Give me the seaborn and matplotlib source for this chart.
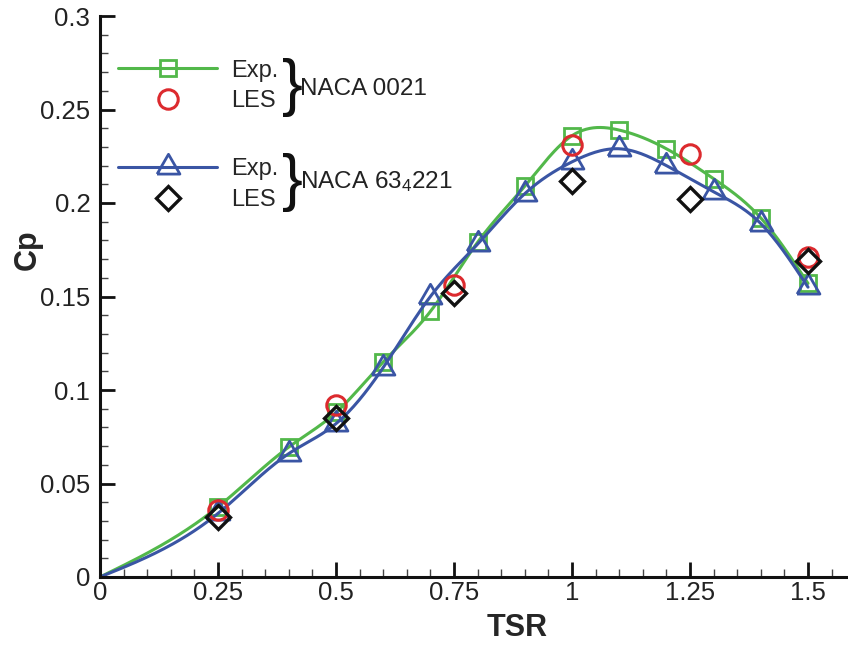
import numpy as np
import matplotlib
matplotlib.use("Agg")
import matplotlib.pyplot as plt
from matplotlib.lines import Line2D
from matplotlib.ticker import MultipleLocator
import seaborn as sns

# Experimental power coefficient curves
tsr_exp = [0.0, 0.25, 0.4, 0.5, 0.6, 0.7, 0.8, 0.9, 1.0, 1.1, 1.2, 1.3, 1.4, 1.5]
cp_exp_0021 = [0.0, 0.0375, 0.0695, 0.088, 0.115, 0.142, 0.179, 0.209, 0.236,
               0.239, 0.229, 0.213, 0.192, 0.157]
cp_exp_634221 = [0.0, 0.034, 0.066, 0.082, 0.112, 0.150, 0.178, 0.205, 0.222,
                 0.229, 0.220, 0.206, 0.189, 0.155]

# LES results
tsr_les = [0.25, 0.5, 0.75, 1.0, 1.25, 1.5]
cp_les_0021 = [0.036, 0.092, 0.156, 0.231, 0.226, 0.171]
cp_les_634221 = [0.032, 0.085, 0.152, 0.212, 0.202, 0.169]

x_ticks = [0, 0.25, 0.5, 0.75, 1.0, 1.25, 1.5]
x_tick_labels = ["0", "0.25", "0.5", "0.75", "1", "1.25", "1.5"]
y_ticks = [0, 0.05, 0.1, 0.15, 0.2, 0.25, 0.3]
y_tick_labels = ["0", "0.05", "0.1", "0.15", "0.2", "0.25", "0.3"]

GREEN = "#52b84a"
BLUE = "#3a55a4"
RED = "#dc2a2e"
BLACK = "#111111"

sns.set_style("ticks")
plt.rcParams["font.family"] = ["Liberation Sans", "DejaVu Sans"]
plt.rcParams["mathtext.fontset"] = "custom"
plt.rcParams["mathtext.rm"] = "Liberation Sans"
plt.rcParams["mathtext.it"] = "Liberation Sans:italic"


def natural_spline(x, y, n=400):
    """Smooth curve through the given points (natural cubic spline)."""
    x = np.asarray(x, float)
    y = np.asarray(y, float)
    m = len(x)
    h = np.diff(x)
    A = np.zeros((m, m))
    r = np.zeros(m)
    A[0, 0] = A[-1, -1] = 1.0
    for i in range(1, m - 1):
        A[i, i - 1] = h[i - 1]
        A[i, i] = 2 * (h[i - 1] + h[i])
        A[i, i + 1] = h[i]
        r[i] = 3 * ((y[i + 1] - y[i]) / h[i] - (y[i] - y[i - 1]) / h[i - 1])
    c = np.linalg.solve(A, r)
    b = np.diff(y) / h - h * (2 * c[:-1] + c[1:]) / 3
    d = np.diff(c) / (3 * h)
    xs = np.linspace(x[0], x[-1], n)
    idx = np.clip(np.searchsorted(x, xs) - 1, 0, m - 2)
    dx = xs - x[idx]
    ys = y[idx] + b[idx] * dx + c[idx] * dx ** 2 + d[idx] * dx ** 3
    return xs, ys


# equilateral triangle centred on its centroid
tri = [(-1.0, -0.577), (1.0, -0.577), (0.0, 1.155), (-1.0, -0.577)]

fig = plt.figure(figsize=(8.48, 6.45), dpi=100)
ax = fig.add_axes([100 / 848, 68 / 645, 748 / 848, 561 / 645])

LW = 2.2
sq_kw = dict(marker="s", markersize=11.5, markerfacecolor="none",
             markeredgecolor=GREEN, markeredgewidth=2.0)
tri_kw = dict(marker=tri, markersize=19, markerfacecolor="none",
              markeredgecolor=BLUE, markeredgewidth=2.0)
circ_kw = dict(marker="o", markersize=14, markerfacecolor="none",
               markeredgecolor=RED, markeredgewidth=2.2)
dia_kw = dict(marker="D", markersize=12, markerfacecolor="none",
              markeredgecolor=BLACK, markeredgewidth=2.4)

xs, ys = natural_spline(tsr_exp, cp_exp_0021)
sns.lineplot(x=xs, y=ys, ax=ax, color=GREEN, lw=LW, sort=False, estimator=None)
sns.lineplot(x=tsr_exp[1:], y=cp_exp_0021[1:], ax=ax, linestyle="none",
             sort=False, estimator=None, **sq_kw)

xs, ys = natural_spline(tsr_exp, cp_exp_634221)
sns.lineplot(x=xs, y=ys, ax=ax, color=BLUE, lw=LW, sort=False, estimator=None)
sns.lineplot(x=tsr_exp[1:], y=cp_exp_634221[1:], ax=ax, linestyle="none",
             sort=False, estimator=None, **tri_kw)

sns.lineplot(x=tsr_les, y=cp_les_0021, ax=ax, linestyle="none",
             sort=False, estimator=None, **circ_kw)
sns.lineplot(x=tsr_les, y=cp_les_634221, ax=ax, linestyle="none",
             sort=False, estimator=None, **dia_kw)

ax.set_xlim(0, 748 / 472)
ax.set_ylim(0, 0.3)
ax.set_xticks(x_ticks)
ax.set_xticklabels(x_tick_labels)
ax.set_yticks(y_ticks)
ax.set_yticklabels(y_tick_labels)
ax.xaxis.set_minor_locator(MultipleLocator(0.05))
ax.yaxis.set_minor_locator(MultipleLocator(0.01))
ax.tick_params(which="major", direction="in", length=11, width=2.0,
               labelsize=18.5, colors="#111111", labelcolor="#222222")
ax.tick_params(axis="x", which="major", pad=3)
ax.tick_params(axis="y", which="major", pad=7)
ax.tick_params(which="minor", direction="in", length=6, width=1.0, colors="#444444")

for side in ("top", "right"):
    ax.spines[side].set_visible(False)
for side in ("left", "bottom"):
    ax.spines[side].set_linewidth(2.2)
    ax.spines[side].set_color("#111111")

ax.set_xlabel("TSR", fontsize=22, fontweight="bold")
ax.set_ylabel("Cp", fontsize=22, fontweight="bold")
ax.xaxis.set_label_coords(0.557, -0.064)
ax.yaxis.set_label_coords(-0.076, 0.583)

# grouped legends
leg_kw = dict(loc="upper left", frameon=False, fontsize=17, handlelength=4.2,
              handletextpad=0.6, labelspacing=0.36, borderpad=0, borderaxespad=0)
h1 = [Line2D([], [], color=GREEN, lw=LW, **sq_kw),
      Line2D([], [], linestyle="none", **circ_kw)]
leg1 = ax.legend(h1, ["Exp.", "LES"], bbox_to_anchor=(0.024, 0.922), **leg_kw)
ax.add_artist(leg1)
h2 = [Line2D([], [], color=BLUE, lw=LW, **tri_kw),
      Line2D([], [], linestyle="none", **dia_kw)]
ax.legend(h2, ["Exp.", "LES"], bbox_to_anchor=(0.024, 0.746), **leg_kw)

ax.text(0.243, 0.8725, "}", transform=ax.transAxes, fontsize=45,
        va="center", ha="left", color="#111111")
ax.text(0.267, 0.859, "NACA 0021", transform=ax.transAxes, fontsize=17.5,
        va="baseline", ha="left", color="#222222")
ax.text(0.243, 0.704, "}", transform=ax.transAxes, fontsize=45,
        va="center", ha="left", color="#111111")
ax.text(0.267, 0.693, r"NACA 63$_{\mathrm{4}}$221", transform=ax.transAxes,
        fontsize=17.5, va="baseline", ha="left", color="#222222")

fig.savefig("out.png", dpi=100)
